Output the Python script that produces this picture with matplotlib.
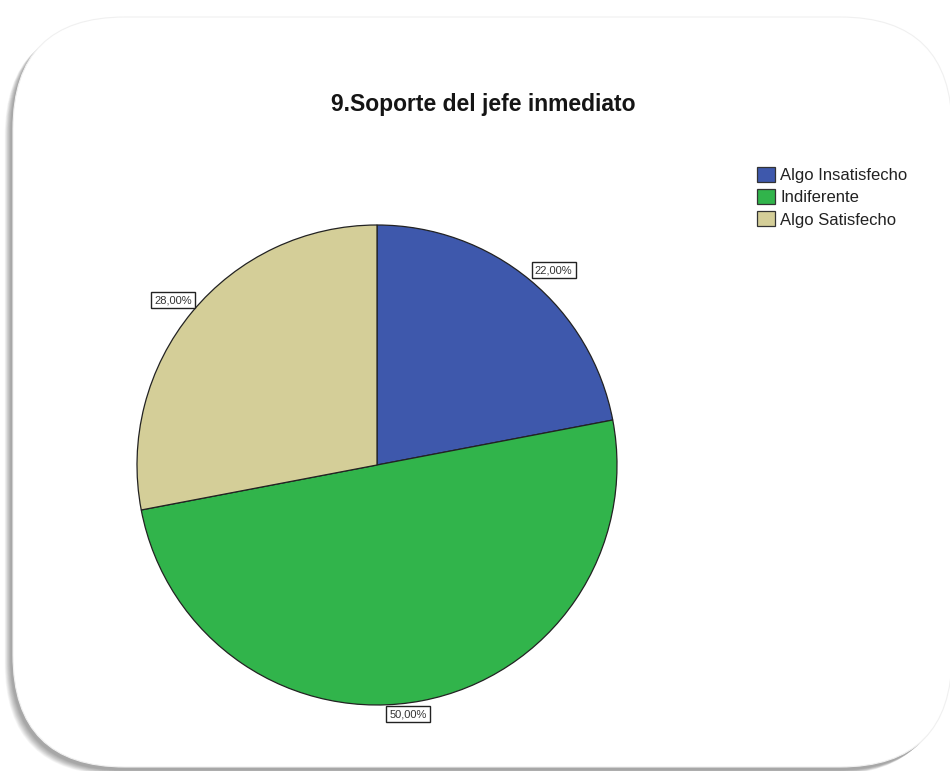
import numpy as np
import matplotlib
matplotlib.use("Agg")
import matplotlib.pyplot as plt
from matplotlib.patches import FancyBboxPatch

plt.rcParams['font.family'] = ['Liberation Sans', 'DejaVu Sans']

# Data
title = "9.Soporte del jefe inmediato"
categories = ["Algo Insatisfecho", "Indiferente", "Algo Satisfecho"]
percentages = [22.0, 50.0, 28.0]
colors = ["#3E58AC", "#31B44B", "#D4CE98"]

W, H = 950, 771
fig = plt.figure(figsize=(W / 100, H / 100), dpi=100)
fig.patch.set_facecolor("white")

# Background card with a soft shadow, drawn in pixel coordinates
bg = fig.add_axes([0, 0, 1, 1])
bg.set_xlim(0, W)
bg.set_ylim(H, 0)
bg.axis("off")

x0, y0, x1, y1 = 13, 17, 952, 767
rad = 112
for i in range(16, 0, -1):
    sh = FancyBboxPatch((x0 - 2 - i * 0.4, y0 + 3 + i * 0.3),
                        (x1 - x0), (y1 - y0),
                        boxstyle=f"round,pad=0,rounding_size={rad}",
                        facecolor="black", edgecolor="none",
                        alpha=0.022, zorder=1)
    bg.add_patch(sh)
card = FancyBboxPatch((x0, y0), x1 - x0, y1 - y0,
                      boxstyle=f"round,pad=0,rounding_size={rad}",
                      facecolor="white", edgecolor="#f0f0f0", linewidth=0.8,
                      zorder=2)
bg.add_patch(card)

# Pie axes: centre (377, 465) px, radius 240 px
cx, cy, r = 377, 465, 240
ax = fig.add_axes([(cx - r) / W, (H - cy - r) / H, 2 * r / W, 2 * r / H])
wedges, _ = ax.pie(percentages, colors=colors, startangle=90,
                   counterclock=False, radius=1,
                   wedgeprops=dict(edgecolor="#222222", linewidth=0.9))
ax.set_xlim(-1, 1)
ax.set_ylim(-1, 1)
ax.set_aspect("equal")
ax.axis("off")

# Percentage labels just outside each slice (radius factor, angle shift)
label_place = [(1.096, -2.6), (1.046, -3.7), (1.092, 0.6)]
for w, p, (lr, dth) in zip(wedges, percentages, label_place):
    mid = np.deg2rad((w.theta1 + w.theta2) / 2 + dth)
    ax.text(lr * np.cos(mid), lr * np.sin(mid),
            f"{p:.2f}%".replace(".", ","),
            ha="center", va="center", fontsize=8, color="#333333",
            bbox=dict(boxstyle="square,pad=0.3", facecolor="white",
                      edgecolor="#222222", linewidth=1.0),
            clip_on=False)

fig.text(483 / W, 1 - 111 / H, title, ha="center", va="baseline",
         fontsize=16.5, fontweight="bold", color="#151515")

leg = fig.legend(wedges, categories, loc="upper left",
                 bbox_to_anchor=(757 / W, 1 - 167 / H),
                 frameon=False, fontsize=12, handlelength=1.08,
                 handleheight=1.0, handletextpad=0.3, labelspacing=0.36,
                 borderpad=0, borderaxespad=0)
for t in leg.get_texts():
    t.set_color("#222222")
for h in leg.legend_handles:
    h.set_edgecolor("#333333")
    h.set_linewidth(0.9)

fig.savefig("out.png", dpi=100, facecolor="white")
